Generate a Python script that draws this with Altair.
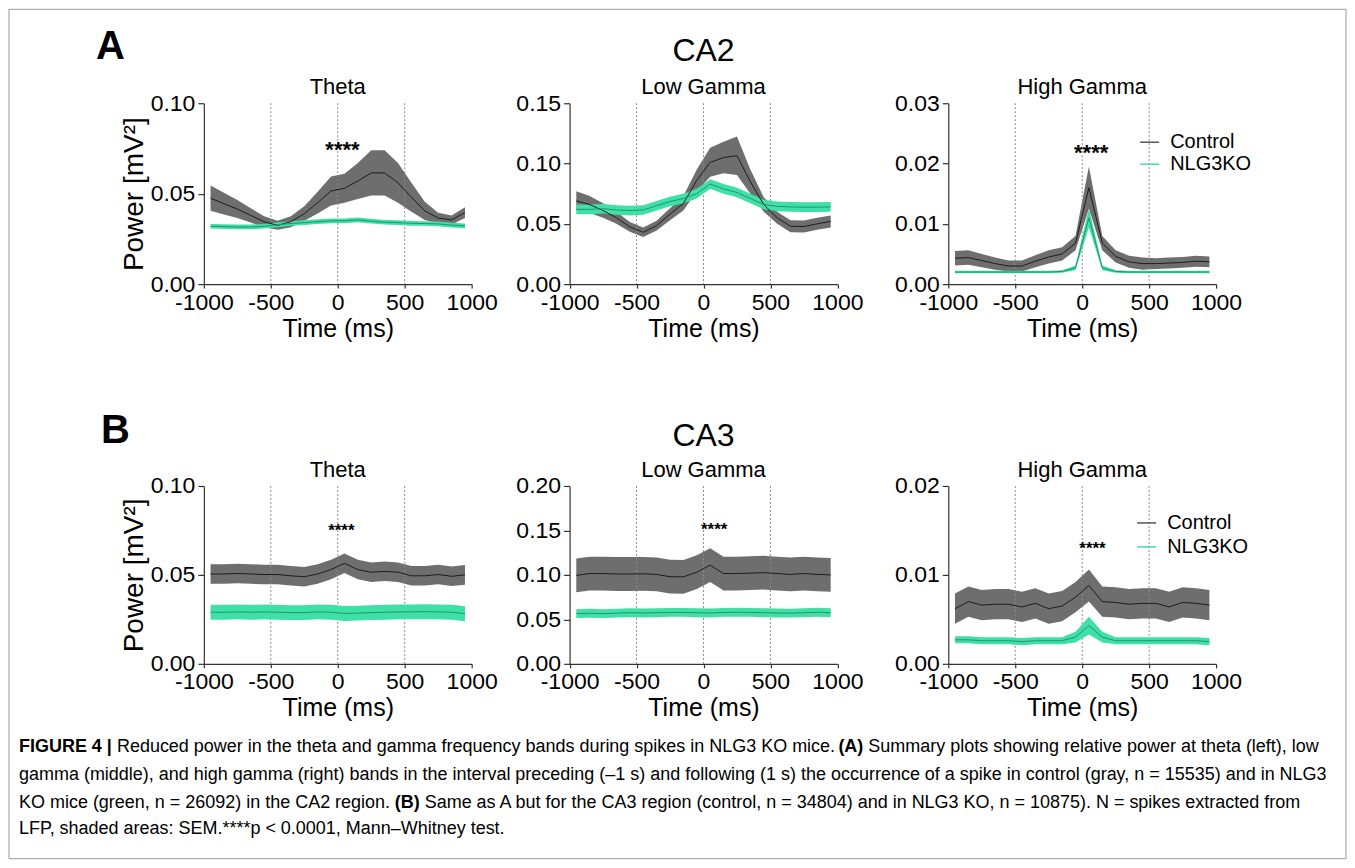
import altair as alt
import pandas as pd

FONT = "Liberation Sans"

# ---------------- data ----------------
TIME = [-950, -850, -750, -650, -550, -450, -350, -250, -150, -50,
        50, 150, 250, 350, 450, 550, 650, 750, 850, 950]

# CA2 - Theta
ca2_theta_ctrl = [0.0475, 0.0445, 0.0415, 0.038, 0.0345, 0.0325, 0.0345, 0.039, 0.045, 0.0515,
                  0.053, 0.057, 0.0615, 0.0615, 0.056, 0.048, 0.0405, 0.0365, 0.0355, 0.0395]
ca2_theta_ctrl_sem = [0.007, 0.006, 0.005, 0.004, 0.003, 0.0025, 0.003, 0.004, 0.006, 0.008,
                      0.008, 0.010, 0.0125, 0.0125, 0.011, 0.008, 0.005, 0.003, 0.0025, 0.003]
ca2_theta_ko = [0.032, 0.0318, 0.0316, 0.0316, 0.032, 0.0328, 0.0335, 0.034, 0.0345, 0.035,
                0.035, 0.0355, 0.0348, 0.0342, 0.034, 0.0336, 0.0335, 0.0333, 0.0326, 0.0322]
ca2_theta_ko_sem = [0.0013, 0.0013, 0.0013, 0.0013, 0.0013, 0.0013, 0.0013, 0.0013, 0.0013, 0.0013,
                    0.0013, 0.0013, 0.0013, 0.0013, 0.0013, 0.0013, 0.0013, 0.0013, 0.0013, 0.0013]

# CA2 - Low Gamma
ca2_low_ctrl = [0.069, 0.066, 0.061, 0.055, 0.0475, 0.043, 0.0485, 0.058, 0.067, 0.086,
                0.101, 0.105, 0.1065, 0.085, 0.066, 0.055, 0.048, 0.0478, 0.050, 0.052]
ca2_low_ctrl_sem = [0.008, 0.007, 0.006, 0.005, 0.004, 0.004, 0.004, 0.005, 0.006, 0.009,
                    0.012, 0.013, 0.016, 0.010, 0.006, 0.005, 0.005, 0.005, 0.005, 0.005]
ca2_low_ko = [0.062, 0.062, 0.0625, 0.0615, 0.061, 0.0615, 0.065, 0.0685, 0.071, 0.075,
              0.083, 0.079, 0.076, 0.071, 0.066, 0.0645, 0.064, 0.0638, 0.0638, 0.064]
ca2_low_ko_sem = [0.004, 0.004, 0.004, 0.004, 0.004, 0.004, 0.004, 0.004, 0.004, 0.004,
                  0.004, 0.004, 0.004, 0.004, 0.004, 0.004, 0.004, 0.004, 0.004, 0.004]

# CA2 - High Gamma
ca2_high_ctrl = [0.0043, 0.0044, 0.0039, 0.0034, 0.003, 0.003, 0.0038, 0.0045, 0.005, 0.0068,
                 0.016, 0.0068, 0.0046, 0.0037, 0.0034, 0.0034, 0.0035, 0.0036, 0.0038, 0.0037]
ca2_high_ctrl_sem = [0.0012, 0.0012, 0.0011, 0.001, 0.0009, 0.0009, 0.001, 0.0011, 0.0011, 0.0012,
                     0.0035, 0.0012, 0.001, 0.001, 0.001, 0.0009, 0.0009, 0.0009, 0.0009, 0.0009]
ca2_high_ko = [0.002, 0.002, 0.002, 0.002, 0.002, 0.002, 0.002, 0.002, 0.0021, 0.0027,
               0.011, 0.0027, 0.0021, 0.002, 0.002, 0.002, 0.002, 0.002, 0.002, 0.002]
ca2_high_ko_sem = [0.0002, 0.0002, 0.0002, 0.0002, 0.0002, 0.0002, 0.0002, 0.0002, 0.0002, 0.0004,
                   0.0016, 0.0004, 0.0002, 0.0002, 0.0002, 0.0002, 0.0002, 0.0002, 0.0002, 0.0002]

# CA3 - Theta
ca3_theta_ctrl = [0.0505, 0.0505, 0.0508, 0.0505, 0.0502, 0.0502, 0.0495, 0.049, 0.0505, 0.053,
                  0.0565, 0.053, 0.0515, 0.052, 0.0515, 0.0495, 0.0495, 0.0502, 0.0492, 0.050]
ca3_theta_ctrl_sem = [0.0055, 0.0055, 0.0055, 0.0055, 0.0055, 0.0055, 0.0055, 0.0055, 0.0055, 0.0055,
                      0.0055, 0.0055, 0.0055, 0.0055, 0.0055, 0.0055, 0.0055, 0.0055, 0.0055, 0.0055]
ca3_theta_ko = [0.029, 0.029, 0.0292, 0.029, 0.0292, 0.029, 0.0288, 0.0288, 0.0292, 0.029,
                0.0283, 0.0285, 0.0288, 0.029, 0.0292, 0.0292, 0.0293, 0.0292, 0.029, 0.0282]
ca3_theta_ko_sem = [0.0042, 0.0042, 0.0042, 0.0042, 0.0042, 0.0042, 0.0042, 0.0042, 0.0042, 0.0042,
                    0.0042, 0.0042, 0.0042, 0.0042, 0.0042, 0.0042, 0.0042, 0.0042, 0.0042, 0.0042]

# CA3 - Low Gamma
ca3_low_ctrl = [0.0995, 0.1015, 0.1015, 0.101, 0.101, 0.1012, 0.1005, 0.098, 0.0978, 0.103,
                0.111, 0.1015, 0.1015, 0.102, 0.1025, 0.1015, 0.1005, 0.1015, 0.1005, 0.100]
ca3_low_ctrl_sem = [0.019, 0.019, 0.019, 0.019, 0.019, 0.019, 0.019, 0.019, 0.019, 0.019,
                    0.019, 0.019, 0.019, 0.019, 0.019, 0.019, 0.019, 0.019, 0.019, 0.019]
ca3_low_ko = [0.0565, 0.0568, 0.0565, 0.057, 0.0575, 0.0572, 0.0575, 0.0578, 0.0578, 0.0575,
              0.0572, 0.0578, 0.058, 0.0578, 0.0575, 0.0572, 0.057, 0.0575, 0.058, 0.0575]
ca3_low_ko_sem = [0.005, 0.005, 0.005, 0.005, 0.005, 0.005, 0.005, 0.005, 0.005, 0.005,
                  0.005, 0.005, 0.005, 0.005, 0.005, 0.005, 0.005, 0.005, 0.005, 0.005]

# CA3 - High Gamma
ca3_high_ctrl = [0.0062, 0.007, 0.0066, 0.0067, 0.0067, 0.0064, 0.0068, 0.0062, 0.0065, 0.0075,
                 0.0088, 0.007, 0.0069, 0.0067, 0.0068, 0.0068, 0.0064, 0.0069, 0.0068, 0.0066]
ca3_high_ctrl_sem = [0.0017, 0.0017, 0.0017, 0.0017, 0.0017, 0.0017, 0.0017, 0.0017, 0.0017, 0.0017,
                     0.0018, 0.0017, 0.0017, 0.0017, 0.0017, 0.0017, 0.0017, 0.0017, 0.0017, 0.0017]
ca3_high_ko = [0.0027, 0.0027, 0.0026, 0.0026, 0.0026, 0.0025, 0.0026, 0.0026, 0.0026, 0.003,
               0.0043, 0.003, 0.0026, 0.0026, 0.0026, 0.0026, 0.0026, 0.0026, 0.0026, 0.0025]
ca3_high_ko_sem = [0.0004, 0.0004, 0.0004, 0.0004, 0.0004, 0.0004, 0.0004, 0.0004, 0.0004, 0.0006,
                   0.001, 0.0006, 0.0004, 0.0004, 0.0004, 0.0004, 0.0004, 0.0004, 0.0004, 0.0004]

# significance stars: (time, power) in data units
stars_ca2 = {"Theta": (35, 0.0744), "High Gamma": (67, 0.0218)}
stars_ca3 = {"Theta": (27, 0.0758), "Low Gamma": (80, 0.1525), "High Gamma": (77, 0.01315)}

X_TICKS = [-1000, -500, 0, 500, 1000]
DOTTED_AT = [-500, 0, 500]
LEGEND_LABELS = ["Control", "NLG3KO"]

CAPTION_L1_BOLD = "FIGURE 4 |"
CAPTION_L1_A = "Reduced power in the theta and gamma frequency bands during spikes in NLG3 KO mice."
CAPTION_L1_B_BOLD = "(A)"
CAPTION_L1_C = "Summary plots showing relative power at theta (left), low"
CAPTION_L2 = ("gamma (middle), and high gamma (right) bands in the interval preceding (\u20131 s) and following (1 s) "
              "the occurrence of a spike in control (gray, n = 15535) and in NLG3")
CAPTION_L3_A = "KO mice (green, n = 26092) in the CA2 region."
CAPTION_L3_B_BOLD = "(B)"
CAPTION_L3_C = ("Same as A but for the CA3 region (control, n = 34804) and in NLG3 KO, n = 10875). "
                "N = spikes extracted from")
CAPTION_L4 = "LFP, shaded areas: SEM.****p < 0.0001, Mann\u2013Whitney test."

# ---------------- styling ----------------
GRAY_BAND = "#6e6e6e"
CTRL_LINE = "#1c1c1c"
GREEN_BAND = "#3ee0a7"
GREEN_LINE = "#23946c"
ONE = pd.DataFrame({"k": [0]})
W = 268
HA, HB = 181, 178
COL_SP = 104.5
CAP = 18


def txt(text, x, y, size, weight="normal", align="left", baseline="middle", color="#000"):
    return alt.Chart(ONE).mark_text(
        text=text, fontSize=size, fontWeight=weight, align=align, baseline=baseline,
        font=FONT, color=color
    ).encode(x=alt.value(x), y=alt.value(y))


def panel(title, ctrl, csem, ko, ksem, ymax, yticks, h, star=None, star_size=22, star_dy=0,
          ytitle=False, legend=None, shift=0.0, extra=()):
    df = pd.DataFrame({"t": TIME, "c": ctrl, "cs": csem, "k": ko, "ks": ksem})
    df["clo"] = df["c"] - df["cs"]
    df["chi"] = df["c"] + df["cs"]
    df["klo"] = df["k"] - df["ks"]
    df["khi"] = df["k"] + df["ks"]

    xs = alt.Scale(domain=[-1000, 1000], nice=False, zero=False, range=[-shift, W - shift])
    ys = alt.Scale(domain=[0, ymax], nice=False, zero=True)
    xaxis = alt.Axis(values=X_TICKS, labelExpr="'' + datum.value", title="Time (ms)",
                     grid=False, labelFlush=False, tickSize=4, labelPadding=3,
                     titlePadding=2, labelOverlap=False)
    yaxis = alt.Axis(values=yticks, format=".2f", title="Power [mV\u00b2]" if ytitle else "",
                     grid=False, tickSize=6, labelPadding=3, titlePadding=2,
                     titleFontSize=28, labelOverlap=False, offset=shift)

    base = alt.Chart(df)
    band_c = base.mark_area(color=GRAY_BAND, opacity=1).encode(
        x=alt.X("t:Q", scale=xs, axis=xaxis),
        y=alt.Y("clo:Q", scale=ys, axis=yaxis),
        y2="chi:Q")
    band_k = base.mark_area(color=GREEN_BAND, opacity=1).encode(
        x=alt.X("t:Q", scale=xs), y=alt.Y("klo:Q", scale=ys), y2="khi:Q")
    line_c = base.mark_line(color=CTRL_LINE, strokeWidth=1).encode(
        x=alt.X("t:Q", scale=xs), y=alt.Y("c:Q", scale=ys))
    line_k = base.mark_line(color=GREEN_LINE, strokeWidth=1).encode(
        x=alt.X("t:Q", scale=xs), y=alt.Y("k:Q", scale=ys))
    dots = alt.Chart(pd.DataFrame({"t": DOTTED_AT})).mark_rule(
        color="#8a8a8a", strokeDash=[2, 2], strokeWidth=1).encode(
        x=alt.X("t:Q", scale=xs))
    layers = [band_c, dots, band_k, line_c, line_k]
    # panel title as text
    layers.append(txt(title, W / 2 - shift, -9, 22, align="center", baseline="alphabetic"))
    if star is not None:
        sd = pd.DataFrame({"t": [star[0]], "v": [star[1]]})
        layers.append(alt.Chart(sd).mark_text(
            text="****", fontSize=star_size, fontWeight="bold", font=FONT,
            baseline="middle", dy=star_dy, color="#000").encode(
            x=alt.X("t:Q", scale=xs), y=alt.Y("v:Q", scale=ys)))
    if legend is not None:
        lx, ly, gap = legend
        for i, (lab, col) in enumerate(zip(LEGEND_LABELS, ["#555555", GREEN_BAND])):
            yy = ly + i * gap
            layers.append(alt.Chart(ONE).mark_rule(color=col, strokeWidth=1.5).encode(
                x=alt.value(lx), x2=alt.value(lx + 19), y=alt.value(yy)))
            layers.append(txt(lab, lx + 30, yy, 20))
    layers.extend(extra)
    return alt.layer(*layers).properties(width=W, height=h)


# figure-level annotations, positioned relative to the first panel's plot origin
OX, OY = 203, 102
annot = [
    alt.Chart(ONE).mark_rect(fillOpacity=0, stroke="#9a9a9a", strokeWidth=1).encode(
        x=alt.value(8 - OX), x2=alt.value(1346 - OX), y=alt.value(8 - OY), y2=alt.value(858 - OY)),
    txt("A", 95 - OX, 58 - OY, 40, weight="bold", baseline="alphabetic"),
    txt("CA2", 703 - OX, 60 - OY, 32, align="center", baseline="alphabetic"),
    txt("B", 100 - OX, 442 - OY, 40, weight="bold", baseline="alphabetic"),
    txt("CA3", 703 - OX, 445 - OY, 32, align="center", baseline="alphabetic"),
    txt(CAPTION_L1_BOLD, 18 - OX, 746 - OY, CAP, weight="bold"),
    txt(CAPTION_L1_A, 116 - OX, 746 - OY, CAP),
    txt(CAPTION_L1_B_BOLD, 838 - OX, 746 - OY, CAP, weight="bold"),
    txt(CAPTION_L1_C, 868 - OX, 746 - OY, CAP),
    txt(CAPTION_L2, 18 - OX, 774 - OY, CAP),
    txt(CAPTION_L3_A, 18 - OX, 802 - OY, CAP),
    txt(CAPTION_L3_B_BOLD, 394 - OX, 802 - OY, CAP, weight="bold"),
    txt(CAPTION_L3_C, 424 - OX, 802 - OY, CAP),
    txt(CAPTION_L4, 18 - OX, 828 - OY, CAP),
]

MID_SHIFT = 6.5

pA1 = panel("Theta", ca2_theta_ctrl, ca2_theta_ctrl_sem, ca2_theta_ko, ca2_theta_ko_sem,
            0.10, [0, 0.05, 0.10], HA, star=stars_ca2["Theta"], star_size=22, star_dy=0,
            ytitle=True, extra=annot)
pA2 = panel("Low Gamma", ca2_low_ctrl, ca2_low_ctrl_sem, ca2_low_ko, ca2_low_ko_sem,
            0.15, [0, 0.05, 0.10, 0.15], HA, shift=MID_SHIFT)
pA3 = panel("High Gamma", ca2_high_ctrl, ca2_high_ctrl_sem, ca2_high_ko, ca2_high_ko_sem,
            0.03, [0, 0.01, 0.02, 0.03], HA, star=stars_ca2["High Gamma"], star_size=22,
            star_dy=0, legend=(192, 39, 22))

pB1 = panel("Theta", ca3_theta_ctrl, ca3_theta_ctrl_sem, ca3_theta_ko, ca3_theta_ko_sem,
            0.10, [0, 0.05, 0.10], HB, star=stars_ca3["Theta"], star_size=17, star_dy=2,
            ytitle=True)
pB2 = panel("Low Gamma", ca3_low_ctrl, ca3_low_ctrl_sem, ca3_low_ko, ca3_low_ko_sem,
            0.20, [0, 0.05, 0.10, 0.15, 0.20], HB, star=stars_ca3["Low Gamma"], star_size=17,
            star_dy=2, shift=MID_SHIFT)
pB3 = panel("High Gamma", ca3_high_ctrl, ca3_high_ctrl_sem, ca3_high_ko, ca3_high_ko_sem,
            0.02, [0, 0.01, 0.02], HB, star=stars_ca3["High Gamma"], star_size=17, star_dy=2,
            legend=(189, 37, 24))

chart = alt.concat(pA1, pA2, pA3, pB1, pB2, pB3, columns=3,
                   spacing={"row": 202, "column": COL_SP}, bounds="flush").properties(
    padding=0, background="white"
).configure_view(stroke="transparent").configure_axis(
    labelFont=FONT, titleFont=FONT, labelFontSize=23, titleFontSize=25,
    titleFontWeight="normal", labelColor="#000", titleColor="#000",
    domainColor="#333", tickColor="#333", domainWidth=1.2, tickWidth=1.2
)

chart.save("out.html", embed_options={"renderer": "svg", "actions": False})
